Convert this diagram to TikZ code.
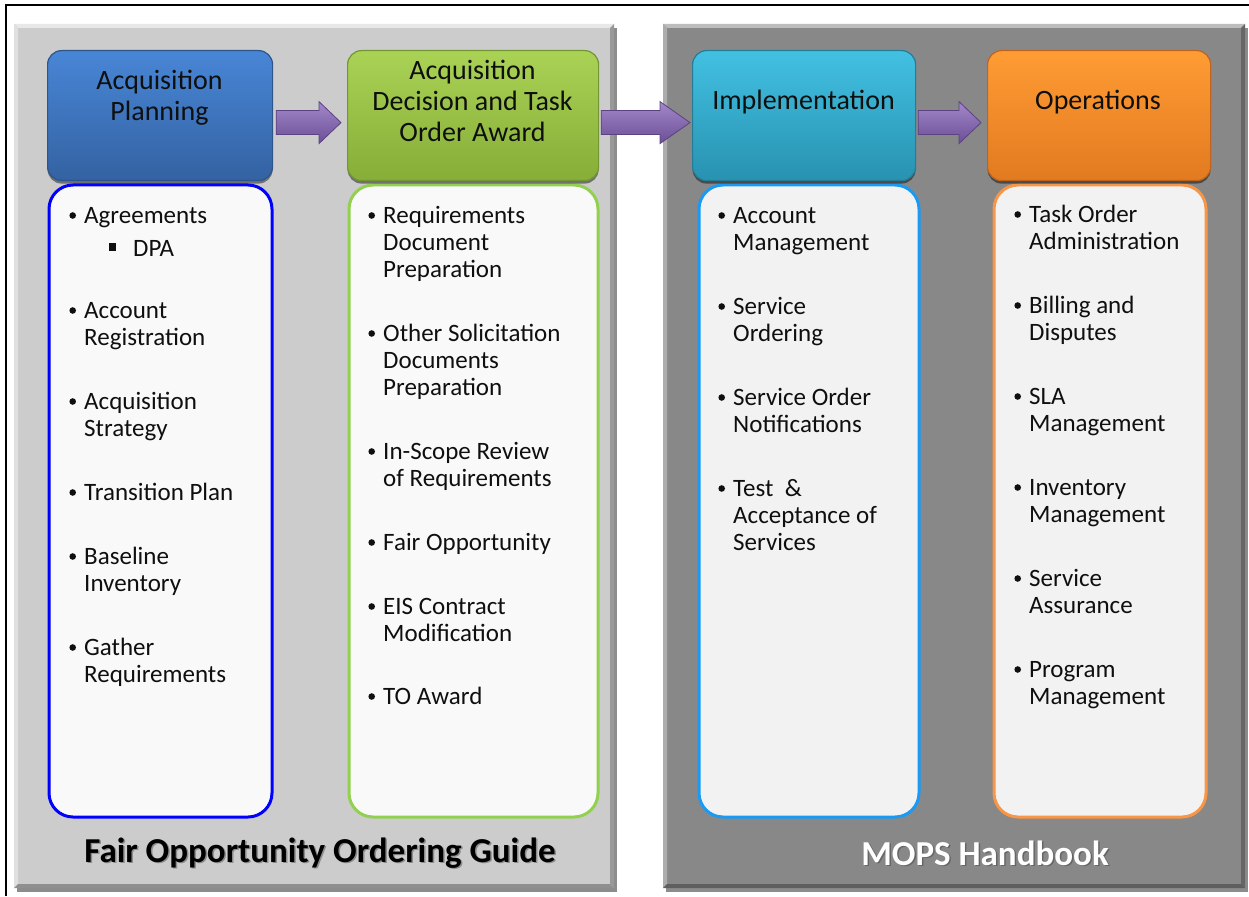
\documentclass[tikz,border=0pt]{standalone}
\usepackage{fontspec}
\setmainfont{Carlito}
\usetikzlibrary{calc,shadows}

\definecolor{panelL}{RGB}{204,204,204}
\definecolor{panelR}{RGB}{136,136,136}
\definecolor{bodyL}{RGB}{249,249,249}
\definecolor{bodyR}{RGB}{242,242,242}
\definecolor{bordBlue}{RGB}{0,0,255}
\definecolor{bordGreen}{RGB}{146,208,80}
\definecolor{bordCyan}{RGB}{25,155,245}
\definecolor{bordOrange}{RGB}{247,150,70}
\definecolor{hBlueT}{RGB}{72,134,214}
\definecolor{hBlueB}{RGB}{52,98,162}
\definecolor{hBlueD}{RGB}{45,85,140}
\definecolor{hGreenT}{RGB}{170,210,85}
\definecolor{hGreenB}{RGB}{134,174,56}
\definecolor{hGreenD}{RGB}{115,150,50}
\definecolor{hCyanT}{RGB}{66,192,226}
\definecolor{hCyanB}{RGB}{40,146,176}
\definecolor{hCyanD}{RGB}{35,125,150}
\definecolor{hOrangeT}{RGB}{255,156,52}
\definecolor{hOrangeB}{RGB}{226,122,32}
\definecolor{hOrangeD}{RGB}{190,100,30}
\definecolor{arrT}{RGB}{162,136,202}
\definecolor{arrB}{RGB}{108,78,150}
\definecolor{arrD}{RGB}{92,66,128}
\definecolor{txt}{RGB}{15,15,15}

\newcommand\mlines[1]{\begin{tabular}[t]{@{}l@{}}#1\end{tabular}}
\newcommand\clines[1]{\begin{tabular}[t]{@{}c@{}}#1\end{tabular}}

\newcommand\bitem[4]{%
  \fill[txt] (#2-11.3,#3-7.5) circle (3.3);
  \node[itemtext, anchor=base west] (#1) at (#2,#3) {\mlines{#4}};
}
\newcommand\blockarrow[3]{%
  \path[blockarr] let \p1=(#1), \p2=(#2) in
    (\x1,\y1+12pt) -- (\x2-#3pt,\y1+12pt) -- (\x2-#3pt,\y1+21pt) -- (\x2,\y1)
    -- (\x2-#3pt,\y1-21pt) -- (\x2-#3pt,\y1-12pt) -- (\x1,\y1-12pt) -- cycle;
}

\begin{document}
\begin{tikzpicture}[x=1pt,y=-1pt,
  panel/.style={rectangle, inner sep=0, anchor=north west,
    drop shadow={shadow xshift=3pt, shadow yshift=-4pt, opacity=0.45, fill=black}},
  hdr/.style={rectangle, rounded corners=14, inner sep=0, anchor=north west,
    minimum height=130, line width=1.2,
    drop shadow={shadow xshift=0pt, shadow yshift=-3pt, opacity=0.45, fill=black}},
  bodybox/.style={rectangle, rounded corners=24, inner sep=0, anchor=north west,
    line width=3, minimum height=632},
  htext/.style={inner sep=0, text=txt, font=\fontsize{28}{31}\selectfont},
  itemtext/.style={inner sep=0, text=txt, font=\fontsize{25}{27.4}\selectfont},
  titletext/.style={inner sep=0, anchor=base, font=\bfseries\fontsize{35}{40}\selectfont},
  blockarr/.style={top color=arrT, bottom color=arrB, draw=arrD, line width=0.8, line join=miter}
]
\useasboundingbox (0,0) rectangle (1249,896);
\fill[white] (0,0) rectangle (1249,896);
\draw[line width=2] (6,896) -- (6,5) -- (1249,5);

% panels
\node[panel, fill=panelL, minimum width=600, minimum height=864] (pl) at (14,24) {};
\node[panel, fill=panelR, minimum width=582, minimum height=864] (pr) at (663,24) {};
% bevels left panel
\fill[white!55!panelL] (14,24) -- (614,24) -- (610,28) -- (18,28) -- cycle;
\fill[white!40!panelL] (14,24) -- (18,28) -- (18,884) -- (14,888) -- cycle;
\fill[black!25!panelL] (614,24) -- (614,888) -- (610,884) -- (610,28) -- cycle;
\fill[black!30!panelL] (14,888) -- (614,888) -- (610,884) -- (18,884) -- cycle;
% bevels right panel
\fill[white!45!panelR] (663,24) -- (1245,24) -- (1241,28) -- (667,28) -- cycle;
\fill[white!30!panelR] (663,24) -- (667,28) -- (667,884) -- (663,888) -- cycle;
\fill[black!25!panelR] (1245,24) -- (1245,888) -- (1241,884) -- (1241,28) -- cycle;
\fill[black!30!panelR] (663,888) -- (1245,888) -- (1241,884) -- (667,884) -- cycle;

% body boxes
\node[bodybox, draw=bordBlue, fill=bodyL, minimum width=223] (b1) at (47.5,183.5) {};
\node[bodybox, draw=bordGreen, fill=bodyL, minimum width=249] (b2) at (347.5,183.5) {};
\node[bodybox, draw=bordCyan, fill=bodyR, minimum width=220] (b3) at (697.5,183.5) {};
\node[bodybox, draw=bordOrange, fill=bodyR, minimum width=212] (b4) at (992.5,183.5) {};

% headers
\node[hdr, top color=hBlueT, bottom color=hBlueB, draw=hBlueD, minimum width=225] (h1) at (47,50) {};
\node[hdr, top color=hGreenT, bottom color=hGreenB, draw=hGreenD, minimum width=251] (h2) at (347,50) {};
\node[hdr, top color=hCyanT, bottom color=hCyanB, draw=hCyanD, minimum width=223] (h3) at (692,50) {};
\node[hdr, top color=hOrangeT, bottom color=hOrangeB, draw=hOrangeD, minimum width=223] (h4) at (987,50) {};

% header texts
\node[htext, anchor=base] (t1) at (159.5,89.5) {\clines{Acquisition\\Planning}};
\node[htext, anchor=base] (t2) at (472.5,80) {\clines{Acquisition\\Decision and Task\\Order Award}};
\node[htext, anchor=base] (t3) at (803.5,109.5) {Implementation};
\node[htext, anchor=base] (t4) at (1098,109.5) {Operations};

% arrows
\blockarrow{$(h1.east)+(3,7)$}{$(h2.west)+(-6,7)$}{22}
\blockarrow{$(h2.east)+(2,7)$}{$(h3.west)+(-2,7)$}{30}
\blockarrow{$(h3.east)+(2,7)$}{$(h4.west)+(-6,7)$}{22}

% column 1
\bitem{i11}{84}{223}{Agreements}
\fill[txt] (109,243) rectangle (116,250.5);
\node[itemtext, anchor=base west] (i11s) at (133,256) {DPA};
\bitem{i12}{84}{318}{Account\\Registration}
\bitem{i13}{84}{409}{Acquisition\\Strategy}
\bitem{i14}{84}{500}{Transition Plan}
\bitem{i15}{84}{564}{Baseline\\Inventory}
\bitem{i16}{84}{655}{Gather\\Requirements}

% column 2
\bitem{i21}{383}{223}{Requirements\\Document\\Preparation}
\bitem{i22}{383}{341}{Other Solicitation\\Documents\\Preparation}
\bitem{i23}{383}{459}{In-Scope Review\\of Requirements}
\bitem{i24}{383}{550}{Fair Opportunity}
\bitem{i25}{383}{614}{EIS Contract\\Modification}
\bitem{i26}{383}{704}{TO Award}

% column 3
\bitem{i31}{733}{223}{Account\\Management}
\bitem{i32}{733}{314}{Service\\Ordering}
\bitem{i33}{733}{405}{Service Order\\Notifications}
\bitem{i34}{733}{496}{Test~~\&\\Acceptance of\\Services}

% column 4
\bitem{i41}{1029}{222}{Task Order\\Administration}
\bitem{i42}{1029}{313}{Billing and\\Disputes}
\bitem{i43}{1029}{404}{SLA\\Management}
\bitem{i44}{1029}{495}{Inventory\\Management}
\bitem{i45}{1029}{586}{Service\\Assurance}
\bitem{i46}{1029}{677}{Program\\Management}

% titles
\node[titletext, text=black!45] (fts) at (321.5,863.5) {Fair Opportunity Ordering Guide};
\node[titletext, text=black] (ft) at (320,862) {Fair Opportunity Ordering Guide};
\node[titletext, text=black!60] (mts) at (986.5,866.5) {MOPS Handbook};
\node[titletext, text=white] (mt) at (985,865) {MOPS Handbook};
\end{tikzpicture}
\end{document}
